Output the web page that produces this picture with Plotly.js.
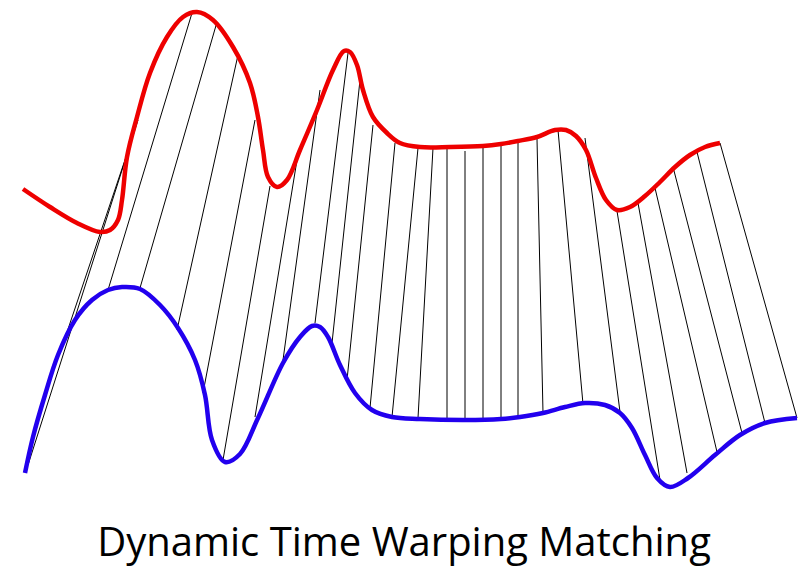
<!DOCTYPE html>
<html>
<head>
<meta charset="utf-8">
<script src="https://cdn.plot.ly/plotly-3.0.1.min.js"></script>
<style>html,body{margin:0;padding:0;background:#fff;}#chart{width:808px;height:569px;}</style>
</head>
<body>
<div id="chart"></div>
<script>
// Red (query) series
const redX = [23, 50, 77, 100, 110, 118, 122, 127, 137, 150, 167, 183, 197, 213, 233, 250, 258, 263, 268, 277, 287, 300, 317, 333, 344, 350, 357, 363, 373, 387, 400, 420, 450, 483, 501, 518, 537, 555, 566, 576, 586, 596, 606, 617, 630, 645, 660, 675, 690, 705, 720];
const redY = [189, 207, 223, 232, 230, 220, 200, 157, 117, 73, 37, 17, 12, 20, 47, 83, 117, 150, 177, 187, 180, 150, 110, 70, 51, 52, 65, 90, 117, 133, 143, 147, 147, 146, 144, 141, 137, 130, 130, 136, 150, 178, 200, 210, 207, 196, 182, 167, 155, 147, 143];

// Blue (reference) series
const blueX = [25, 33, 45, 58, 75, 92, 108, 122, 140, 160, 178, 195, 205, 212, 225, 240, 258, 283, 300, 312, 320, 328, 340, 355, 372, 392, 420, 465, 501, 520, 543, 565, 585, 605, 620, 632, 645, 657, 670, 688, 715, 740, 765, 797];
const blueY = [473, 437, 395, 355, 320, 300, 290, 287, 289, 305, 328, 360, 395, 440, 462, 454, 418, 363, 337, 326, 327, 337, 365, 393, 410, 417, 419, 420, 419, 417, 413, 407, 403, 405, 413, 428, 455, 478, 487, 478, 455, 435, 423, 418];

// Warping path: matched point on red (top) and blue (bottom)
const linkRedX  = [138, 131, 192, 217, 238, 255, 270, 297, 320, 348, 360, 373, 395, 418, 433, 447, 465, 483, 501, 518, 537, 558, 585, 617, 638, 655, 673, 697, 720];
const linkRedY  = [120, 142, 13, 22, 55, 120, 186, 160, 90, 53, 80, 125, 143, 148, 148, 147, 151, 147, 145, 143, 139, 130, 138, 211, 203, 188, 167, 152, 143];
const linkBlueX = [28, 62, 108, 140, 177, 203, 223, 255, 283, 315, 332, 347, 370, 392, 418, 447, 465, 483, 501, 518, 543, 583, 620, 660, 687, 717, 742, 765, 797];
const linkBlueY = [465, 347, 290, 288, 330, 393, 460, 417, 360, 323, 343, 380, 408, 417, 418, 418, 419, 419, 419, 417, 413, 404, 412, 480, 473, 452, 433, 423, 418];

const titleText = "Dynamic Time Warping Matching";

const lx = [], ly = [];
for (let i = 0; i < linkRedX.length; i++) {
  lx.push(linkRedX[i], linkBlueX[i], null);
  ly.push(linkRedY[i], linkBlueY[i], null);
}

const traces = [
  {x: lx, y: ly, mode: 'lines', line: {color: '#000000', width: 1}, hoverinfo: 'skip', connectgaps: false},
  {x: redX, y: redY, mode: 'lines', line: {color: '#ee0000', width: 4.5, shape: 'spline', smoothing: 1}},
  {x: blueX, y: blueY, mode: 'lines', line: {color: '#2200ee', width: 4.5, shape: 'spline', smoothing: 1}}
];

const layout = {
  width: 808, height: 569,
  margin: {l: 0, r: 0, t: 0, b: 0},
  paper_bgcolor: '#ffffff', plot_bgcolor: '#ffffff',
  showlegend: false,
  xaxis: {range: [0, 808], visible: false, fixedrange: true},
  yaxis: {range: [569, 0], visible: false, fixedrange: true},
  title: {text: titleText, x: 0.5, xanchor: 'center', y: 1 - 542/569, yanchor: 'middle', yref: 'container',
          font: {family: 'Open Sans, sans-serif', size: 40, color: '#000000'}}
};

Plotly.newPlot('chart', traces, layout, {displayModeBar: false, staticPlot: true});
</script>
</body>
</html>
